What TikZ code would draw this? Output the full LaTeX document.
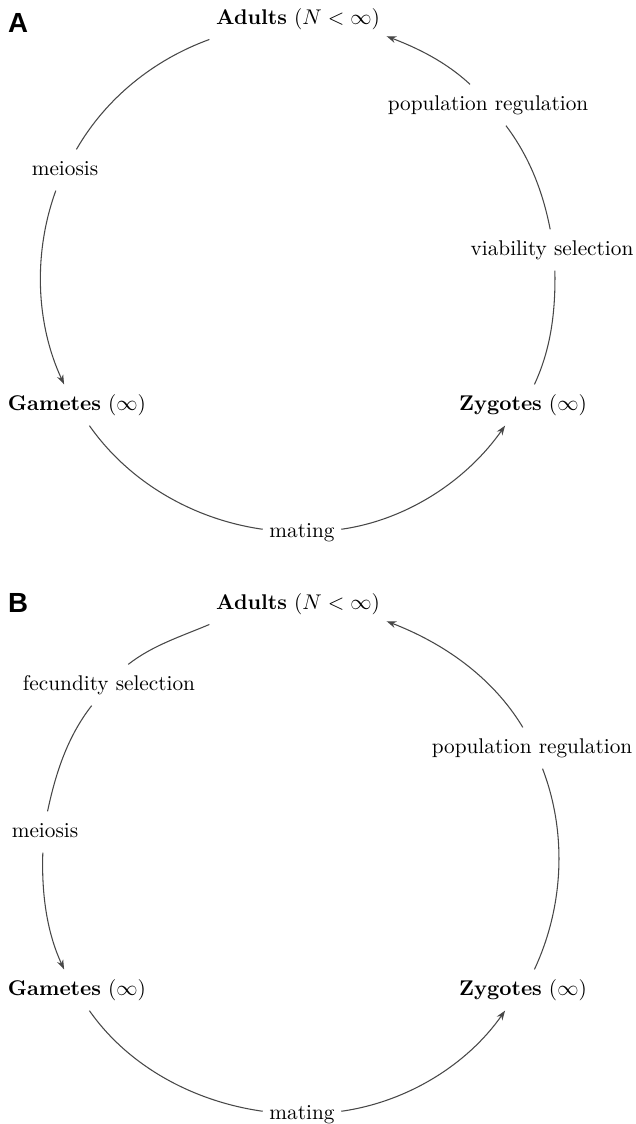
\documentclass[tikz,border=0pt]{standalone}
\usepackage{fontspec}
\newfontfamily\panelfont{Liberation Sans}
\usetikzlibrary{arrows.meta}
\tikzset{
  lbl/.style={inner xsep=3pt, inner ysep=4.5pt, text height=7.5pt, text depth=2.5pt},
  link/.style={draw=black!72, line width=0.5pt, looseness=0.88},
  arr/.style={link, -{Stealth[length=4.5pt,width=3.2pt]}},
  panel/.style={font=\panelfont\bfseries\fontsize{13}{15}\selectfont, inner sep=0pt}
}
\begin{document}
\begin{tikzpicture}[x=0.47pt,y=-0.47pt]
\useasboundingbox (0,0) rectangle (636,1124);
% ---------------- Panel A ----------------
\node[panel] (labA) at (18,23) {A};
\node[lbl] (aA)   at (298,19)  {\textbf{Adults} $(N<\infty)$};
\node[lbl] (mA)   at (65,170)  {meiosis};
\node[lbl] (gA)   at (77,405)  {\textbf{Gametes} $(\infty)$};
\node[lbl] (matA) at (302,532) {mating};
\node[lbl] (zA)   at (523,405) {\textbf{Zygotes} $(\infty)$};
\node[lbl] (vA)   at (552,250) {viability selection};
\node[lbl] (pA)   at (488,105) {population regulation};
\draw[link] (aA.193) to[out=200,in=60] (mA.61);
\draw[arr]  (mA.246) to[out=250,in=115] (gA.122);
\draw[link] (gA.301) to[out=305,in=172] (matA.176);
\draw[arr]  (matA.4) to[out=8,in=235] (zA.229);
\draw[link] (zA.61) to[out=65,in=271] (vA.278);
\draw[link] (vA.95) to[out=101,in=307] (pA.311);
\draw[arr]  (pA.131) to[out=137,in=339] (aA.349);
% ---------------- Panel B ----------------
\node[panel] (labB) at (18,603) {B};
\node[lbl] (aB)   at (298,604)  {\textbf{Adults} $(N<\infty)$};
\node[lbl] (fB)   at (109,685)  {fecundity selection};
\node[lbl] (mB)   at (45,832)   {meiosis};
\node[lbl] (gB)   at (77,990)   {\textbf{Gametes} $(\infty)$};
\node[lbl] (matB) at (302,1114) {mating};
\node[lbl] (zB)   at (523,990)  {\textbf{Zygotes} $(\infty)$};
\node[lbl] (pB)   at (532,748)  {population regulation};
\draw[link] (aB.193) to[out=203,in=38] (fB.47);
\draw[link] (fB.230) to[out=232,in=78] (mB.83);
\draw[arr]  (mB.264) to[out=268,in=115] (gB.122);
\draw[link] (gB.301) to[out=305,in=172] (matB.176);
\draw[arr]  (matB.4) to[out=8,in=235] (zB.229);
\draw[link] (zB.61) to[out=65,in=291] (pB.297);
\draw[arr]  (pB.114) to[out=121,in=339] (aB.349);
\end{tikzpicture}
\end{document}
